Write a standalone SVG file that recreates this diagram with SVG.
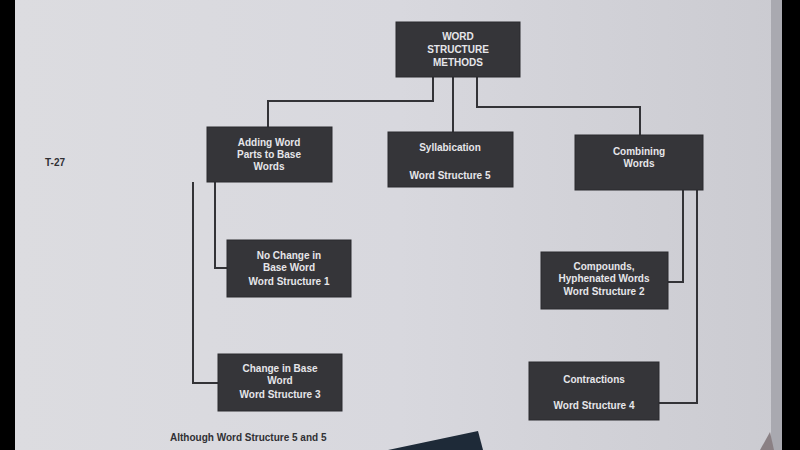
<svg xmlns="http://www.w3.org/2000/svg" width="800" height="450" viewBox="0 0 800 450">
<defs>
<style>
.box{fill:#353539;stroke:#2a2a2e;stroke-width:1}
.t{fill:#e6e6ea;font-family:"Liberation Sans",Arial,sans-serif;font-weight:bold;font-size:10px;text-anchor:middle}
.w{stroke:#333337;stroke-width:2;fill:none}
.pt{fill:#303034;font-family:"Liberation Sans",Arial,sans-serif;font-weight:bold;font-size:10px}
</style>
<linearGradient id="pg" x1="0" y1="0" x2="1" y2="0">
<stop offset="0" stop-color="#dcdce0"/>
<stop offset="0.5" stop-color="#d8d8de"/>
<stop offset="1" stop-color="#cbcbd1"/>
</linearGradient>
</defs>
<rect x="0" y="0" width="800" height="450" fill="#000"/>
<rect x="15" y="0" width="767" height="450" fill="url(#pg)"/>
<rect x="771" y="0" width="11" height="450" fill="#a9a9b0"/>
<polygon points="388,450 478,431 483,450" fill="#1e2a38"/>
<polygon points="760,450 770,432 774,450" fill="#8a8084"/>
<text class="pt" x="45" y="166" font-size="11">T-27</text>
<text class="pt" x="170" y="441" fill="#4a4a50">Although Word Structure 5 and 5</text>
<g id="connectors">
<polyline class="w" points="433,77 433,101 268,101 268,127"/>
<line class="w" x1="453" y1="77" x2="453" y2="132"/>
<polyline class="w" points="477,77 477,107 640,107 640,135"/>
<polyline class="w" points="215,182 215,268 227,268"/>
<polyline class="w" points="193,182 193,383 218,383"/>
<polyline class="w" points="683,190 683,282 668,282"/>
<polyline class="w" points="697,190 697,403 659,403"/>
</g>
<g id="n-root">
<rect class="box" x="396" y="22" width="124" height="55"/>
<text class="t" x="458" y="40">WORD</text>
<text class="t" x="458" y="53">STRUCTURE</text>
<text class="t" x="458" y="66">METHODS</text>
</g>
<g id="n-adding">
<rect class="box" x="207" y="127" width="125" height="55"/>
<text class="t" x="269" y="146">Adding Word</text>
<text class="t" x="269" y="158">Parts to Base</text>
<text class="t" x="269" y="170">Words</text>
</g>
<g id="n-syll">
<rect class="box" x="388" y="132" width="125" height="55"/>
<text class="t" x="450" y="151">Syllabication</text>
<text class="t" x="450" y="179">Word Structure 5</text>
</g>
<g id="n-combining">
<rect class="box" x="575" y="135" width="128" height="55"/>
<text class="t" x="639" y="155">Combining</text>
<text class="t" x="639" y="167">Words</text>
</g>
<g id="n-nochange">
<rect class="box" x="227" y="240" width="124" height="57"/>
<text class="t" x="289" y="259">No Change in</text>
<text class="t" x="289" y="271">Base Word</text>
<text class="t" x="289" y="285">Word Structure 1</text>
</g>
<g id="n-compounds">
<rect class="box" x="541" y="252" width="127" height="57"/>
<text class="t" x="604" y="270">Compounds,</text>
<text class="t" x="604" y="282">Hyphenated Words</text>
<text class="t" x="604" y="295">Word Structure 2</text>
</g>
<g id="n-change">
<rect class="box" x="218" y="354" width="124" height="57"/>
<text class="t" x="280" y="372">Change in Base</text>
<text class="t" x="280" y="384">Word</text>
<text class="t" x="280" y="398">Word Structure 3</text>
</g>
<g id="n-contractions">
<rect class="box" x="529" y="362" width="130" height="58"/>
<text class="t" x="594" y="383">Contractions</text>
<text class="t" x="594" y="409">Word Structure 4</text>
</g>
</svg>
